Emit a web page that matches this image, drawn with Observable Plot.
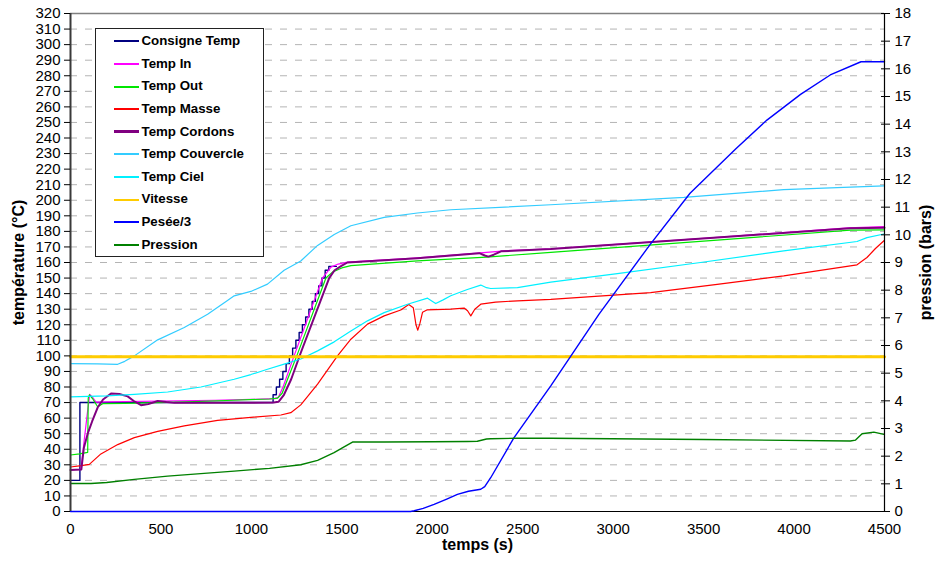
<!DOCTYPE html>
<html><head><meta charset="utf-8">
<script src="https://cdn.jsdelivr.net/npm/d3@7"></script>
<script src="https://cdn.jsdelivr.net/npm/@observablehq/plot@0.6"></script>
<style>
body{margin:0;background:#fff;}
#wrap{position:relative;width:936px;height:562px;font-family:Arial,"Liberation Sans",sans-serif;}
#legend{position:absolute;left:95px;top:28px;width:169px;height:229px;box-sizing:border-box;border:1.5px solid #222;background:#fff;}
.row{position:absolute;left:0;width:160px;height:22.6px;line-height:22.6px;font-weight:bold;font-size:13.3px;color:#000;white-space:nowrap;}
.sw{position:absolute;left:17.5px;width:25px;height:2px;top:10.3px;}
.lb{position:absolute;left:45.5px;top:0;}
</style></head>
<body><div id="wrap"></div>
<script>
// ---- data (time s, value) ----
const consigneTemp = [[0,20],[52,70],[1120,75],[1138,80],[1156,85],[1174,90],[1192,95],[1210,100],[1228,105],[1246,110],[1264,115],[1282,120],[1300,125],[1318,130],[1336,135],[1354,140],[1372,145],[1390,150],[1408,155],[1428,157.5],[1470,157.5]];
const tempIn = [[0,27],[58,27],[75,45],[95,65],[106,75.3],[118,74],[141,70.3],[200,70.5],[500,71],[800,71.5],[1000,72],[1130,72.5],[1150,73.5],[1175,80],[1236,100],[1393,150],[1440,157],[1480,159],[1530,160.2],[1900,162.8],[2250,166],[2300,166.5],[2400,167.5],[2655,168.8],[3575,176.2],[4300,182.3],[4500,183]];
const tempOut = [[0,36.3],[50,37],[95,38],[98,73],[105,75],[125,72],[150,67.3],[178,69.3],[300,69.5],[600,70.3],[900,71.5],[1100,72.3],[1145,72.8],[1170,76],[1200,85],[1251,100],[1412,150],[1450,154],[1500,156.5],[1550,158],[1918,161],[2300,163.5],[2655,166.5],[3575,174.4],[4311,180.8],[4500,181]];
const tempMasse = [[0,28.6],[60,29.5],[104,30.3],[168,37],[261,43],[353,47.5],[482,51.5],[629,55],[813,58.5],[997,60.5],[1163,62],[1218,63.5],[1273,68.5],[1366,81.8],[1476,100],[1550,110.7],[1642,120.4],[1734,125.7],[1826,129.5],[1870,133],[1895,131],[1910,120],[1920,116.5],[1932,121],[1946,128],[1970,129.5],[2102,130],[2176,130.7],[2195,129],[2213,125.7],[2235,130],[2268,133.2],[2350,134.5],[2471,135.4],[2655,136.3],[3207,140.7],[3575,146],[3943,151.4],[4348,158.5],[4403,163.2],[4450,169],[4497,174]];
const tempCordons = [[0,26.7],[60,27],[74,41],[95,50],[120,58],[150,66.8],[180,72],[224,75.8],[270,75.5],[316,74],[350,71],[390,68.3],[430,69],[482,71],[530,70.3],[574,69.8],[800,69.8],[1123,70],[1150,70.5],[1180,75],[1220,85],[1273,102],[1430,150],[1460,155],[1500,158],[1531,160],[1918,162.8],[2260,166],[2290,164.5],[2310,163.8],[2340,165],[2380,167.2],[2655,168.6],[3575,176],[4311,182],[4500,182.3]];
const tempCouvercle = [[0,95],[150,94.8],[261,94.6],[300,96.5],[353,100],[482,110.3],[629,118.2],[758,126.8],[860,135],[905,138.6],[997,141.4],[1089,146.1],[1181,155],[1273,161],[1366,171],[1458,178],[1550,183.6],[1734,189],[1918,191.8],[2102,193.9],[2655,197.1],[3391,201.8],[3943,206.8],[4497,209.3]];
const tempCiel = [[0,73.6],[200,74.3],[353,75.3],[537,76.8],[721,80],[905,85],[997,88],[1089,91.4],[1181,94.7],[1273,98],[1366,103.2],[1458,109],[1550,116],[1642,122.5],[1734,127.8],[1863,133.2],[1974,137.1],[1995,135.5],[2019,133.6],[2060,136],[2102,138.6],[2190,142.5],[2268,145.5],[2300,143.8],[2323,143.3],[2471,143.9],[2655,147.4],[3023,152.9],[3483,160],[3943,167.5],[4348,173.5],[4403,176],[4497,178.3]];
const vitesse = [[0,99.5],[4500,99.5]];
const peseeSur3 = [[0,0],[1880,0],[1900,0.5],[1950,2],[2010,4.6],[2080,8],[2139,11],[2200,13],[2268,14.3],[2290,16],[2323,21.7],[2452,47.5],[2655,80.7],[2922,126.8],[3207,172],[3425,204.5],[3677,233],[3850,251.5],[4036,268],[4200,280.5],[4370,289],[4500,289]];
const pression = [[0,1.01],[113,1.01],[200,1.05],[353,1.16],[537,1.28],[720,1.37],[905,1.46],[1100,1.56],[1273,1.69],[1366,1.85],[1457,2.13],[1510,2.33],[1559,2.51],[1734,2.51],[2000,2.52],[2194,2.53],[2249,2.54],[2300,2.62],[2323,2.63],[2471,2.65],[2655,2.65],[3500,2.6],[4311,2.55],[4340,2.58],[4376,2.81],[4441,2.87],[4497,2.79]];

const seriesNames = ["Consigne Temp","Temp In","Temp Out","Temp Masse","Temp Cordons","Temp Couvercle","Temp Ciel","Vitesse","Pesée/3","Pression"];
const seriesData = [consigneTemp,tempIn,tempOut,tempMasse,tempCordons,tempCouvercle,tempCiel,vitesse,peseeSur3,pression];
const seriesColors = ["#000080","#ff00ff","#00e600","#ff0000","#800080","#33ccff","#00f0ff","#ffcc00","#0000ff","#008000"];
const seriesWidths = [1.4,1.2,1.2,1.2,2,1.2,1.2,3,1.4,1.4];
const seriesCurves = ["step-after","linear","linear","linear","linear","linear","linear","linear","linear","linear"];
const rightAxis = [false,false,false,false,false,false,false,false,false,true];

const tempTicks = d3.range(0, 321, 10);
const pressTicks = d3.range(0, 19, 1);
const timeTicks = d3.range(0, 4501, 500);
const TMAX = 320, PMAX = 18, K = TMAX / PMAX;

const lines = seriesData.map((data, i) => Plot.line(data, {
  x: d => d[0],
  y: rightAxis[i] ? (d => d[1] * K) : (d => d[1]),
  stroke: seriesColors[i],
  strokeWidth: seriesWidths[i],
  curve: seriesCurves[i]
}));

const chart = Plot.plot({
  width: 936, height: 562,
  marginLeft: 70, marginRight: 52, marginTop: 13, marginBottom: 51,
  style: {fontFamily: "Arial, 'Liberation Sans', sans-serif", fontSize: "15px", background: "#fff", color: "#000", overflow: "visible"},
  x: {domain: [0, 4500], axis: null},
  y: {domain: [0, TMAX], axis: null},
  marks: [
    Plot.ruleY(tempTicks.filter(t => t > 0 && t < TMAX), {stroke: "#b4b4b4", strokeDasharray: "7,8"}),
    Plot.ruleY([TMAX], {stroke: "#808080", strokeWidth: 1.5}),
    Plot.ruleY([0], {stroke: "#000", strokeWidth: 1}),
    ...lines,
    Plot.ruleX([0], {stroke: "#3a3a3a", strokeWidth: 2}),
    Plot.ruleX([4500], {stroke: "#000", strokeWidth: 1.2}),
    Plot.axisY(tempTicks, {anchor: "left", tickSize: 6, tickPadding: 4, label: null, tickFormat: d => String(d)}),
    Plot.axisY(pressTicks.map(b => b * K), {anchor: "right", tickSize: 9, dx: -4, tickPadding: 5, label: null, tickFormat: d => String(Math.round(d / K))}),
    Plot.axisX(timeTicks, {anchor: "bottom", tickSize: 0, tickPadding: 12, label: null, tickFormat: d => String(d)}),
    Plot.text(["température (°C)"], {text: d => d, frameAnchor: "left", textAnchor: "middle", dx: -52, rotate: -90, fontWeight: "bold", fontSize: 16}),
    Plot.text(["pression (bars)"], {text: d => d, frameAnchor: "right", textAnchor: "middle", dx: 41, rotate: -90, fontWeight: "bold", fontSize: 16}),
    Plot.text(["temps (s)"], {text: d => d, frameAnchor: "bottom", textAnchor: "middle", dy: 38, fontWeight: "bold", fontSize: 16})
  ]
});

const wrap = document.getElementById("wrap");
wrap.appendChild(chart);
const legend = document.createElement("div");
legend.id = "legend";
seriesNames.forEach((name, i) => {
  const row = document.createElement("div");
  row.className = "row";
  row.style.top = (1.2 + i * 22.6) + "px";
  const sw = document.createElement("div");
  sw.className = "sw";
  sw.style.background = seriesColors[i];
  if (i === 4) { sw.style.height = "3px"; sw.style.top = "9.8px"; }
  const lb = document.createElement("span");
  lb.className = "lb";
  lb.textContent = name;
  row.appendChild(sw); row.appendChild(lb);
  legend.appendChild(row);
});
wrap.appendChild(legend);
</script>
</body></html>
